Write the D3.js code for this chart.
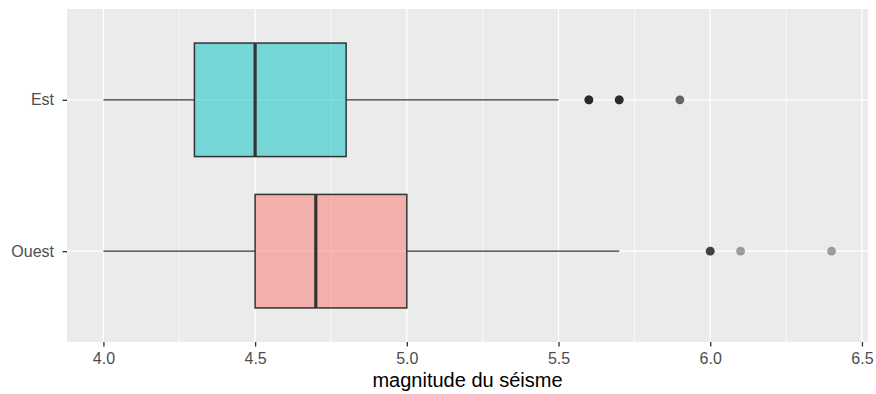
<!DOCTYPE html>
<html><head><meta charset="utf-8">
<script src="https://cdn.jsdelivr.net/npm/d3@7"></script>
<style>body{margin:0;background:#fff}svg{display:block}text{font-family:"Liberation Sans",Arial,Helvetica,sans-serif}</style>
</head><body><svg id="c" width="876" height="394"></svg>
<script>
const categories = ["Est", "Ouest"];
const fills = ["#00BFC4", "#F8766D"];
const lowerWhisker = [4.0, 4.0];
const q1 = [4.3, 4.5];
const medians = [4.5, 4.7];
const q3 = [4.8, 5.0];
const upperWhisker = [5.5, 5.7];
// outliers: [category index, value, number of overlapping points]
const outlierCat = [0, 0, 0, 1, 1, 1];
const outlierVal = [5.6, 5.7, 5.9, 6.0, 6.1, 6.4];
const outlierCount = [4, 4, 2, 3, 1, 1];
const xTicks = [4.0, 4.5, 5.0, 5.5, 6.0, 6.5];
const xMinor = [4.25, 4.75, 5.25, 5.75, 6.25];
const xTitle = "magnitude du séisme";

const svg = d3.select("#c");
const P = {l: 67, r: 868, t: 9, b: 342};
const x = d3.scaleLinear().domain([3.88, 6.52]).range([P.l, P.r]);
const y = d3.scalePoint().domain(categories).range([P.t + 0.6*(P.b-P.t)/2.2, P.b - 0.6*(P.b-P.t)/2.2]);
const bw = 0.75*(P.b-P.t)/2.2;

svg.append("rect").attr("x",P.l).attr("y",P.t).attr("width",P.r-P.l).attr("height",P.b-P.t).attr("fill","#ebebeb");
const g = svg.append("g");
g.selectAll(".mn").data(xMinor).join("line").attr("x1",d=>x(d)).attr("x2",d=>x(d)).attr("y1",P.t).attr("y2",P.b).attr("stroke","#fff").attr("stroke-width",0.67);
g.selectAll(".mj").data(xTicks).join("line").attr("x1",d=>x(d)).attr("x2",d=>x(d)).attr("y1",P.t).attr("y2",P.b).attr("stroke","#fff").attr("stroke-width",1.33);
g.selectAll(".yj").data(categories).join("line").attr("x1",P.l).attr("x2",P.r).attr("y1",d=>y(d)).attr("y2",d=>y(d)).attr("stroke","#fff").attr("stroke-width",1.33);

const boxes = svg.append("g");
categories.forEach((c,i)=>{
  const cy = y(c);
  boxes.append("line").attr("x1",x(lowerWhisker[i])).attr("x2",x(q1[i])).attr("y1",cy).attr("y2",cy).attr("stroke","#333").attr("stroke-width",1.33);
  boxes.append("line").attr("x1",x(q3[i])).attr("x2",x(upperWhisker[i])).attr("y1",cy).attr("y2",cy).attr("stroke","#333").attr("stroke-width",1.33);
  boxes.append("rect").attr("x",x(q1[i])).attr("y",cy-bw/2).attr("width",x(q3[i])-x(q1[i])).attr("height",bw)
    .attr("fill",fills[i]).attr("fill-opacity",0.5).attr("stroke","#333").attr("stroke-width",1.5);
  boxes.append("line").attr("x1",x(medians[i])).attr("x2",x(medians[i])).attr("y1",cy-bw/2).attr("y2",cy+bw/2).attr("stroke","#333").attr("stroke-width",3.2);
});
const pts = [];
outlierVal.forEach((v,i)=>{ for(let k=0;k<outlierCount[i];k++) pts.push({c:categories[outlierCat[i]], v}); });
svg.append("g").selectAll("circle").data(pts).join("circle").attr("cx",d=>x(d.v)).attr("cy",d=>y(d.c)).attr("r",4.4)
  .attr("fill","#000").attr("fill-opacity",0.35);

// axes
const xa = svg.append("g").attr("transform",`translate(0,${P.b})`).call(d3.axisBottom(x).tickValues(xTicks).tickFormat(d3.format(".1f")).tickSize(4.5).tickPadding(6.5));
xa.select(".domain").remove();
xa.selectAll("line").attr("stroke","#333").attr("stroke-width",1.33);
xa.selectAll("text").attr("fill","#4d4d4d").style("font-size","16px");
const ya = svg.append("g").attr("transform",`translate(${P.l},0)`).call(d3.axisLeft(y).tickSize(4.5).tickPadding(8.5));
ya.select(".domain").remove();
ya.selectAll("line").attr("stroke","#333").attr("stroke-width",1.33);
ya.selectAll("text").attr("fill","#4d4d4d").style("font-size","16px");
svg.append("text").attr("x",(P.l+P.r)/2).attr("y",387).attr("text-anchor","middle").style("font-size","20px").attr("fill","#000").text(xTitle);
</script></body></html>
